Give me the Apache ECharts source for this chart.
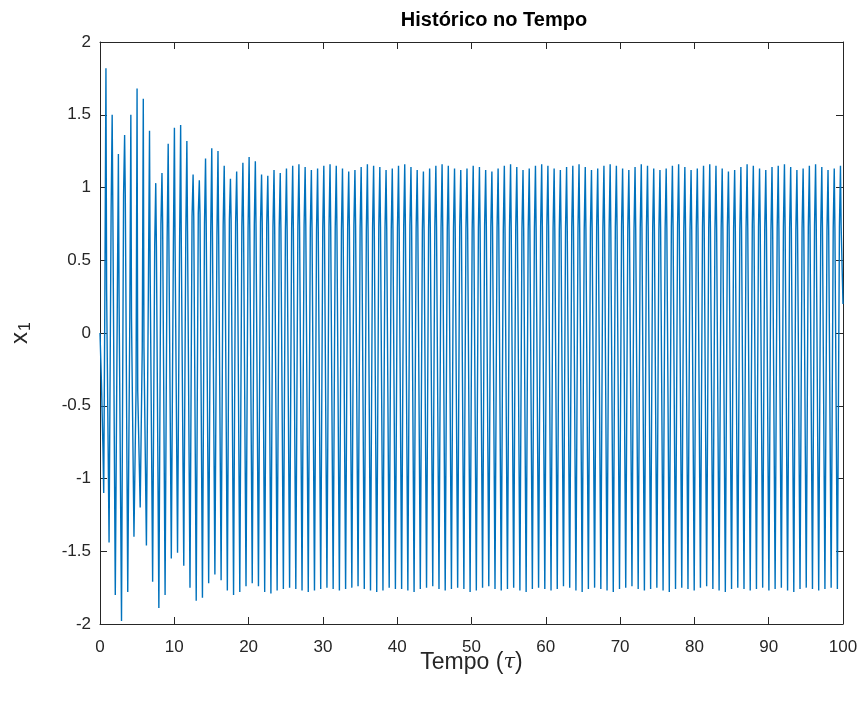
<!DOCTYPE html>
<html>
<head>
<meta charset="utf-8">
<script src="https://cdn.jsdelivr.net/npm/echarts@6/dist/echarts.min.js"></script>
<style>
html,body{margin:0;padding:0;background:#fff;}
#c{width:865px;height:704px;}
</style>
</head>
<body>
<div id="c"></div>
<script>
// ---- data ----
var xTicks = [0,10,20,30,40,50,60,70,80,90,100];
var yTicks = [-2,-1.5,-1,-0.5,0,0.5,1,1.5,2];
var period = 0.8378;      // oscillation period (tau units)
var firstPeak = 0.8;      // time of first peak
// initial segment before the first peak: [tau, x1]
var startTimes  = [0, 0.2, 0.4, 0.5];
var startValues = [0, -0.35, -0.8, -1.1];
// per-cycle peak values
var peaks = [1.82,1.50,1.23,1.36,1.50,1.68,1.61,1.39,1.03,1.10,1.30,1.41,1.43,1.32,1.09,1.05,1.20,1.27,1.25,1.15,1.06,1.11,1.17,1.21,1.18,1.09,1.08,
1.12,1.10,1.13,1.15,1.16,1.14,1.12,1.13,1.15,1.16,
1.15,1.13,1.11,1.12,1.14,1.16,1.15,1.14,1.12,1.13,
1.15,1.16,1.14,1.12,1.11,1.13,1.15,1.16,1.15,1.13,
1.12,1.13,1.15,1.14,1.12,1.11,1.13,1.15,1.16,1.14,
1.12,1.13,1.15,1.16,1.15,1.13,1.12,1.14,1.15,1.16,
1.14,1.12,1.13,1.15,1.16,1.15,1.13,1.12,1.14,1.16,
1.15,1.13,1.12,1.13,1.15,1.16,1.14,1.12,1.13,1.15,
1.16,1.15,1.13,1.11,1.12,1.14,1.16,1.15,1.13,1.12,
1.14,1.15,1.16,1.14,1.12,1.13,1.15,1.16,1.14,1.12,
1.13,1.15];
// per-cycle trough values (after each peak)
var troughs = [-1.44,-1.80,-1.98,-1.78,-1.40,-1.20,-1.46,-1.71,-1.89,-1.80,-1.55,-1.51,-1.60,-1.75,-1.84,-1.82,-1.72,-1.66,-1.70,-1.77,-1.80,-1.78,-1.74,-1.72,-1.74,-1.78,-1.79,
-1.77,-1.76,-1.75,-1.76,-1.77,-1.78,-1.77,-1.76,-1.75,-1.76,
-1.77,-1.76,-1.75,-1.74,-1.76,-1.77,-1.78,-1.77,-1.75,-1.76,
-1.76,-1.77,-1.78,-1.76,-1.75,-1.74,-1.76,-1.77,-1.76,-1.75,
-1.76,-1.78,-1.77,-1.75,-1.74,-1.76,-1.77,-1.76,-1.75,-1.77,
-1.78,-1.76,-1.75,-1.76,-1.77,-1.76,-1.74,-1.75,-1.77,-1.78,
-1.76,-1.75,-1.76,-1.77,-1.78,-1.76,-1.75,-1.74,-1.76,-1.77,
-1.76,-1.75,-1.77,-1.78,-1.76,-1.75,-1.76,-1.77,-1.75,-1.74,
-1.76,-1.77,-1.78,-1.76,-1.75,-1.76,-1.77,-1.76,-1.75,-1.77,
-1.76,-1.75,-1.77,-1.78,-1.76,-1.75,-1.76,-1.77,-1.76,-1.75,
-1.76,-1.77];
// per-cycle shoulder level (kink on each side of the peak)
var shoulders = [0.30,0.85,0.25,0.95,0.10,-0.40,-0.10,0.40,0.60,0.75,0.65,0.60,0.62,0.70,0.80,0.82,0.75,0.70,0.68,0.74,0.78,0.76,0.73,0.72,0.74,0.76,0.75,
0.73,0.72,0.71,0.72,0.73,0.74,0.72,0.71,0.72,0.73,
0.72,0.71,0.73,0.74,0.72,0.71,0.72,0.73,0.72,0.71,
0.72,0.73,0.74,0.72,0.71,0.72,0.73,0.72,0.71,0.72,
0.73,0.72,0.71,0.72,0.74,0.73,0.72,0.71,0.72,0.73,
0.72,0.71,0.72,0.73,0.74,0.72,0.71,0.72,0.73,0.72,
0.71,0.72,0.73,0.72,0.71,0.73,0.74,0.72,0.71,0.72,
0.73,0.72,0.71,0.72,0.73,0.74,0.72,0.71,0.72,0.73,
0.72,0.71,0.72,0.73,0.72,0.71,0.72,0.74,0.73,0.72,
0.71,0.72,0.73,0.72,0.71,0.72,0.73,0.74,0.72,0.71,
0.72,0.73];
// end point of the record
var endTime = 100, endValue = 0.2;

// ---- build the line (sampling times from the period) ----
var series = [];
for (var i = 0; i < startTimes.length; i++) series.push([startTimes[i], startValues[i]]);
for (var k = 0; k < peaks.length; k++) {
  var tp = firstPeak + k * period;
  series.push([tp - 0.14, shoulders[k]]);
  series.push([tp, peaks[k]]);
  series.push([tp + 0.09, shoulders[k]]);
  var tt = tp + 0.42;
  if (tt < endTime) series.push([tt, troughs[k]]);
}
series.push([endTime, endValue]);

var axisCol = '#262626';
var font = 'Liberation Sans, Arial, Helvetica, sans-serif';

var chart = echarts.init(document.getElementById('c'), null, {renderer: 'canvas'});
chart.setOption({
  animation: false,
  backgroundColor: '#ffffff',
  title: {
    text: 'Histórico no Tempo',
    left: 489, top: 5, textAlign: 'center',
    textStyle: {fontFamily: font, fontSize: 20, fontWeight: 'bold', color: '#000'}
  },
  grid: {left: 100, right: 22, top: 42, bottom: 80, containLabel: false},
  xAxis: [{
    type: 'value', min: 0, max: 100, interval: 10, position: 'bottom',
    axisLine: {show: true, onZero: false, lineStyle: {color: axisCol, width: 1}},
    axisTick: {show: true, inside: true, length: 7, lineStyle: {color: axisCol}},
    axisLabel: {color: axisCol, fontFamily: font, fontSize: 17, margin: 15},
    splitLine: {show: false},
    name: '{a|Tempo (}{i|τ}{a|)}', nameLocation: 'middle', nameGap: 27,
    nameMoveOverlap: false,
    nameTextStyle: {rich: {
      a: {fontFamily: font, fontSize: 23, color: axisCol},
      i: {fontFamily: 'DejaVu Serif, serif', fontStyle: 'italic', fontSize: 21, color: axisCol}
    }}
  }, {
    type: 'value', min: 0, max: 100, interval: 10, position: 'top',
    axisLine: {show: true, onZero: false, lineStyle: {color: axisCol, width: 1}},
    axisTick: {show: true, inside: true, length: 7, lineStyle: {color: axisCol}},
    axisLabel: {show: false}, splitLine: {show: false}
  }],
  yAxis: [{
    type: 'value', min: -2, max: 2, interval: 0.5, position: 'left',
    axisLine: {show: true, onZero: false, lineStyle: {color: axisCol, width: 1}},
    axisTick: {show: true, inside: true, length: 7, lineStyle: {color: axisCol}},
    axisLabel: {color: axisCol, fontFamily: font, fontSize: 17, margin: 9},
    splitLine: {show: false},
    name: '{a|x}{b|1}', nameLocation: 'middle', nameGap: 66, nameRotate: 90,
    nameMoveOverlap: false,
    nameTextStyle: {rich: {
      a: {fontFamily: font, fontSize: 24, color: axisCol},
      b: {fontFamily: font, fontSize: 16, color: axisCol, padding: [12, 0, 0, 1]}
    }}
  }, {
    type: 'value', min: -2, max: 2, interval: 0.5, position: 'right',
    axisLine: {show: true, onZero: false, lineStyle: {color: axisCol, width: 1}},
    axisTick: {show: true, inside: true, length: 7, lineStyle: {color: axisCol}},
    axisLabel: {show: false}, splitLine: {show: false}
  }],
  series: [{
    type: 'line', data: series, xAxisIndex: 0, yAxisIndex: 0,
    showSymbol: false, symbol: 'none', clip: true,
    lineStyle: {color: '#0072BD', width: 1.4},
    silent: true
  }]
});
</script>
</body>
</html>
